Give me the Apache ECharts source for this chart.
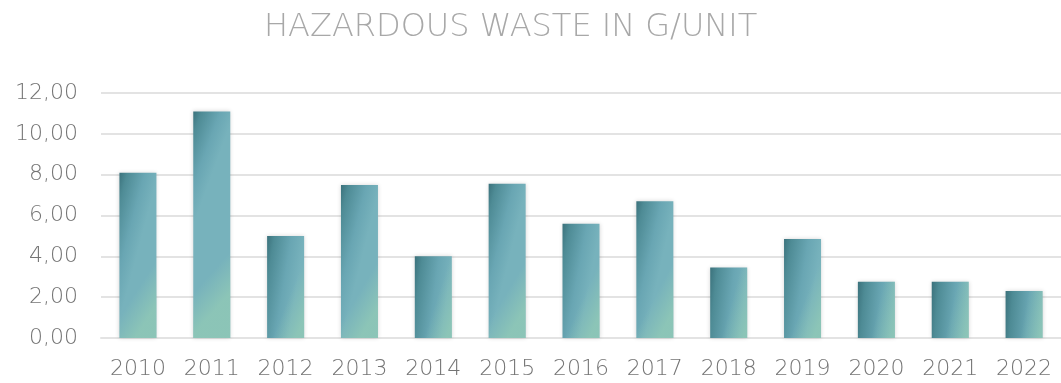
<!DOCTYPE html>
<html><head><meta charset="utf-8">
<script src="https://cdn.jsdelivr.net/npm/echarts@6/dist/echarts.min.js"></script>
<style>html,body{margin:0;padding:0;background:#fff}#c{width:1061px;height:383px}</style>
</head><body><div id="c"></div>
<script>
const titleText = 'HAZARDOUS WASTE IN G/UNIT';
const years = ['2010','2011','2012','2013','2014','2015','2016','2017','2018','2019','2020','2021','2022'];
const wastePerUnit = [8.1, 11.1, 5.0, 7.5, 4.0, 7.55, 5.6, 6.7, 3.45, 4.85, 2.75, 2.75, 2.3];

const chart = echarts.init(document.getElementById('c'), null, {renderer:'canvas'});
const FONT = 'DejaVu Sans';
chart.setOption({
  animation: false,
  backgroundColor: '#fff',
  title: {
    text: titleText, left: 259, top: 7,
    textStyle: {fontFamily: FONT, fontWeight: 200, fontSize: 32, color: '#a8a8a8'}
  },
  grid: {left: 101, top: 93, width: 965, height: 245, containLabel: false},
  xAxis: {
    type: 'category', data: years,
    axisLine: {show: true, lineStyle: {color: '#e3e3e3', width: 2}},
    axisTick: {show: false},
    axisLabel: {fontFamily: FONT, fontWeight: 200, fontSize: 22, color: '#747474', margin: 20}
  },
  yAxis: {
    type: 'value', min: 0, max: 12, interval: 2,
    axisLine: {show: false}, axisTick: {show: false},
    splitLine: {lineStyle: {color: '#e3e3e3', width: 2}},
    axisLabel: {fontFamily: FONT, fontWeight: 200, fontSize: 22, color: '#747474', margin: 23,
      formatter: v => v.toFixed(2).replace('.', ',')}
  },
  series: [{
    type: 'bar', data: wastePerUnit, barWidth: 37,
    itemStyle: {
      color: new echarts.graphic.LinearGradient(0, 0, 1, 0.06, [
        {offset: 0, color: '#3b727c'},
        {offset: 0.2, color: '#4e8b95'},
        {offset: 0.65, color: '#69a6b3'},
        {offset: 1, color: '#77b2bc'}
      ]),
      shadowBlur: 4, shadowColor: 'rgba(0,0,0,0.16)'
    }
  }, {
    type: 'bar', data: wastePerUnit, barWidth: 37, barGap: '-100%', silent: true,
    itemStyle: {
      color: new echarts.graphic.LinearGradient(0.45, 0.72, 1, 0.8, [
        {offset: 0, color: 'rgba(160,215,178,0)'},
        {offset: 1, color: 'rgba(160,215,178,0.5)'}
      ])
    }
  }]
});
</script></body></html>
